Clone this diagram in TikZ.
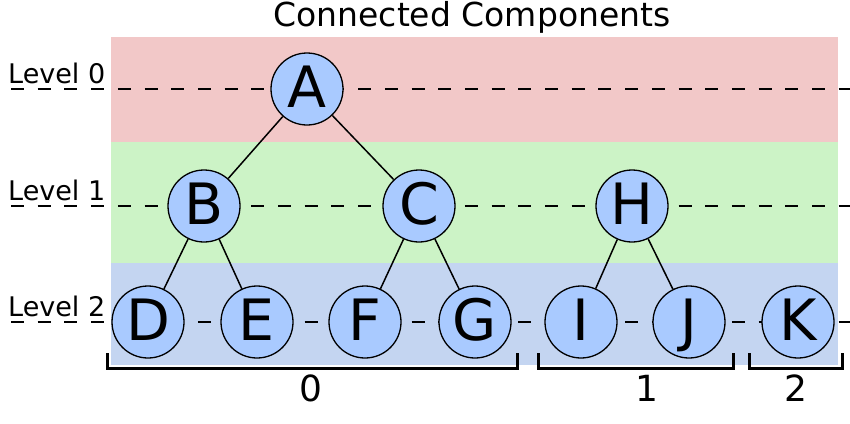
\documentclass[tikz,border=0pt]{standalone}
\usepackage{fontspec}
\setmainfont{DejaVu Sans}
\definecolor{bandred}{HTML}{F2C8C8}
\definecolor{bandgreen}{HTML}{CCF3C6}
\definecolor{bandblue}{HTML}{C4D5F1}
\definecolor{nodeblue}{HTML}{A9CAFF}
\tikzset{
  band/.style={draw=none},
  levelline/.style={line width=2pt, dash pattern=on 13pt off 13.7pt},
  treeedge/.style={line width=1.5pt},
  cnode/.style={circle, draw, line width=1.3pt, fill=nodeblue, minimum size=72pt, inner sep=0pt,
    font=\fontsize{57}{57}\selectfont, text height=42pt, text depth=6pt},
  bracketline/.style={line width=3pt},
  levellabel/.style={anchor=base west, inner sep=0pt, font=\fontsize{27}{27}\selectfont},
  complabel/.style={font=\fontsize{36}{36}\selectfont, inner sep=0pt}
}
\begin{document}
\begin{tikzpicture}[x=1pt,y=-1pt]
\useasboundingbox (0,0) rectangle (850,423);
% bands
\fill[band, bandred] (111,37) rectangle (838,142);
\fill[band, bandgreen] (111,142) rectangle (838,263);
\fill[band, bandblue] (111,263) rectangle (838,365);
% title
\node[font=\fontsize{33}{33}\selectfont, inner sep=0pt] (title) at (472,17) {Connected Components};
% level labels
\node[levellabel] (l0) at (8,83) {Level 0};
\node[levellabel] (l1) at (8,200) {Level 1};
\node[levellabel] (l2) at (8,316) {Level 2};
% dashed level lines
\draw[levelline] (11,89) -- (850,89);
\draw[levelline] (11,206) -- (850,206);
\draw[levelline] (11,322) -- (850,322);
% nodes
\node[cnode] (A) at (307,89) {A};
\node[cnode] (B) at (204,206) {B};
\node[cnode] (C) at (419,206) {C};
\node[cnode] (H) at (632,206) {H};
\node[cnode] (D) at (148,322) {D};
\node[cnode] (E) at (257,322) {E};
\node[cnode] (F) at (365,322) {F};
\node[cnode] (G) at (475,322) {G};
\node[cnode] (I) at (581,322) {I};
\node[cnode] (J) at (689,322) {J};
\node[cnode] (K) at (798,322) {K};
% edges
\draw[treeedge] (A) -- (B);
\draw[treeedge] (A) -- (C);
\draw[treeedge] (B) -- (D);
\draw[treeedge] (B) -- (E);
\draw[treeedge] (C) -- (F);
\draw[treeedge] (C) -- (G);
\draw[treeedge] (H) -- (I);
\draw[treeedge] (H) -- (J);
% brackets
\draw[bracketline] (107,353) -- (107,368) -- (517,368) -- (517,353);
\draw[bracketline] (538,353) -- (538,368) -- (733,368) -- (733,353);
\draw[bracketline] (749,353) -- (749,368) -- (842,368) -- (842,353);
% component labels
\node[complabel] (c0) at (311,388) {0};
\node[complabel] (c1) at (647,388) {1};
\node[complabel] (c2) at (796,388) {2};
\end{tikzpicture}
\end{document}
